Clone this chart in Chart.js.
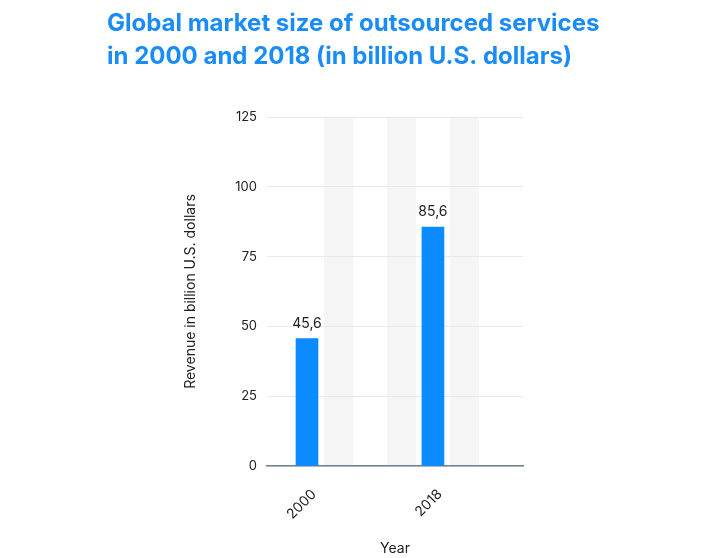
<!DOCTYPE html>
<html>
<head>
<meta charset="utf-8">
<script src="https://cdn.jsdelivr.net/npm/chart.js@4"></script>
<style>
  html, body { margin: 0; padding: 0; background: #fff; }
  #wrap { width: 701px; height: 558px; }
</style>
</head>
<body>
<div id="wrap"><canvas id="marketChart"></canvas></div>
<script>
var years = ["2000", "2018"];
var revenue = [45.6, 85.6];
var yTicks = [0, 25, 50, 75, 100, 125];

var barColor = "#0b8bff";
var textColor = "#222222";
var fontFamily = "Inter, 'Open Sans', sans-serif";

// grey background columns between/after the bars (in x units)
var stripeSlots = [1, 3, 5];

var stripes = {
  id: "stripes",
  beforeDraw: function (chart) {
    var ctx = chart.ctx;
    var x = chart.scales.x;
    var area = chart.chartArea;
    ctx.save();
    ctx.fillStyle = "#f5f5f5";
    stripeSlots.forEach(function (s) {
      var cx = x.getPixelForValue(s);
      ctx.fillRect(cx - 14.5, area.top, 29, area.bottom - area.top);
    });
    ctx.restore();
  },
};

var valueLabels = {
  id: "valueLabels",
  afterDatasetsDraw: function (chart) {
    var ctx = chart.ctx;
    ctx.save();
    ctx.font = "14px " + fontFamily;
    ctx.fillStyle = textColor;
    ctx.textAlign = "center";
    ctx.textBaseline = "bottom";
    chart.getDatasetMeta(0).data.forEach(function (bar, i) {
      ctx.fillText(String(revenue[i]).replace(".", ","), bar.x, bar.y - 8);
    });
    ctx.restore();
  },
};

new Chart("marketChart", {
  type: "bar",
  data: {
    datasets: [
      {
        data: revenue.map(function (v, i) {
          return { x: i * 4, y: v };
        }),
        backgroundColor: barColor,
        barThickness: 22,
      },
    ],
  },
  options: {
    responsive: true,
    maintainAspectRatio: false,
    animation: false,
    layout: { padding: { left: 107, top: 0, bottom: 0, right: 0 } },
    plugins: {
      legend: { display: false },
      tooltip: { enabled: false },
      title: {
        display: true,
        align: "start",
        text: [
          "Global market size of outsourced services",
          "in 2000 and 2018 (in billion U.S. dollars)",
        ],
        color: "#1a8cf7",
        font: { family: fontFamily, size: 24, weight: "bold", lineHeight: 1.375 },
        padding: { top: 7, bottom: 44 },
      },
    },
    scales: {
      x: {
        type: "linear",
        offset: false,
        bounds: "data",
        min: -1.27,
        max: 6.86,
        afterBuildTicks: function (scale) {
          scale.ticks = years.map(function (y, i) {
            return { value: i * 4 };
          });
        },
        afterFit: function (scale) {
          scale.height = 92;
        },
        grid: { display: false },
        border: { display: true, color: "#6f8191", width: 1.5 },
        ticks: {
          color: textColor,
          font: { family: fontFamily, size: 14 },
          minRotation: 45,
          maxRotation: 45,
          padding: 12,
          labelOffset: 7,
          callback: function (value, index) {
            return years[index];
          },
        },
        title: {
          display: true,
          text: "Year",
          color: textColor,
          font: { family: fontFamily, size: 14 },
          padding: { top: 0, bottom: 1 },
        },
      },
      y: {
        min: 0,
        max: 125,
        afterBuildTicks: function (scale) {
          scale.ticks = yTicks.map(function (v) {
            return { value: v };
          });
        },
        afterFit: function (scale) {
          scale.width = 160;
        },
        grid: { color: "#e9e9e9", drawTicks: false },
        border: { display: false },
        ticks: {
          color: textColor,
          font: { family: fontFamily, size: 13 },
          padding: 10,
        },
        title: {
          display: true,
          text: "Revenue in billion U.S. dollars",
          color: textColor,
          font: { family: fontFamily, size: 14 },
          padding: { top: 75, bottom: 0 },
        },
      },
      yRight: {
        position: "right",
        display: true,
        afterFit: function (scale) {
          scale.width = 178;
        },
        grid: { display: false },
        border: { display: false },
        ticks: { display: false },
      },
    },
  },
  plugins: [stripes, valueLabels],
});
</script>
</body>
</html>
